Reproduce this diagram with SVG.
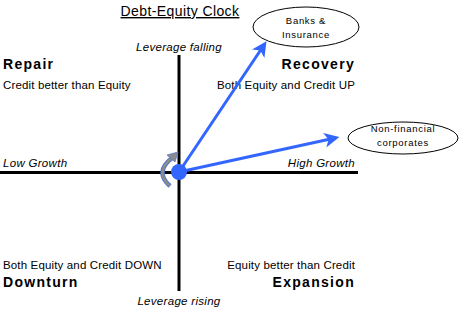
<svg xmlns="http://www.w3.org/2000/svg" width="468" height="309" viewBox="0 0 468 309">
<style>
text{font-family:"Liberation Sans",Arial,sans-serif;fill:#000}
.t{font-size:11.5px;letter-spacing:0.15px}
.b{font-size:14px;font-weight:bold;letter-spacing:1.3px}
.i{font-size:11.5px;font-style:italic;letter-spacing:0.3px}
.s{font-size:9.5px;letter-spacing:0.7px}
.ax{stroke:#000;stroke-width:3}
.arr{stroke:#3366FF;stroke-width:3;fill:none}
.ell{fill:#fff;stroke:#000;stroke-width:1}
</style>
<defs>
<marker id="ah" markerWidth="5" markerHeight="5" refX="3.5" refY="2.5" orient="auto" markerUnits="strokeWidth">
<path d="M0,0 L5,2.5 L0,5 L1.3,2.5 Z" fill="#3366FF"/>
</marker>
</defs>
<rect width="468" height="309" fill="#fff"/>
<text x="180" y="16" text-anchor="middle" style="font-size:14px;letter-spacing:0.4px" text-decoration="underline">Debt-Equity Clock</text>
<g id="axes">
<line class="ax" x1="179" y1="55" x2="179" y2="291"/>
<line class="ax" x1="0" y1="172.5" x2="358" y2="172.5"/>
</g>
<g id="labels">
<text class="i" x="179" y="51" text-anchor="middle">Leverage falling</text>
<text class="i" x="179" y="305" text-anchor="middle">Leverage rising</text>
<text class="i" x="3" y="167">Low Growth</text>
<text class="i" x="355" y="167" text-anchor="end">High Growth</text>
<text class="b" x="3" y="69">Repair</text>
<text class="t" x="3" y="89">Credit better than Equity</text>
<text class="b" x="355" y="69" text-anchor="end">Recovery</text>
<text class="t" x="355" y="89" text-anchor="end">Both Equity and Credit UP</text>
<text class="t" x="3" y="269">Both Equity and Credit DOWN</text>
<text class="b" x="3" y="287">Downturn</text>
<text class="t" x="355" y="269" text-anchor="end">Equity better than Credit</text>
<text class="b" x="355" y="287" text-anchor="end">Expansion</text>
</g>
<g id="connectors">
<line class="arr" x1="179" y1="172" x2="264" y2="45" marker-end="url(#ah)"/>
<line class="arr" x1="179" y1="172" x2="335" y2="138" marker-end="url(#ah)"/>
</g>
<g id="rotation">
<path d="M170,186 Q154,172 172,158" fill="none" stroke="#5577cc" stroke-width="4.5"/>
<path d="M170,186 Q154,172 172,158" fill="none" stroke="#8c8c8c" stroke-width="2.5"/>
<path d="M167,155 L178,152 L175,162 Z" fill="#8c8c8c" stroke="#5577cc" stroke-width="0.8"/>
</g>
<g id="center">
<circle cx="179" cy="172" r="8" fill="#3366FF"/>
</g>
<g id="banks">
<ellipse class="ell" cx="306" cy="27" rx="53" ry="20"/>
<text class="s" x="306" y="24" text-anchor="middle">Banks &amp;</text>
<text class="s" x="306" y="38" text-anchor="middle">Insurance</text>
</g>
<g id="nonfin">
<ellipse class="ell" cx="403" cy="138" rx="55" ry="16"/>
<text class="s" x="403" y="132" text-anchor="middle">Non-financial</text>
<text class="s" x="403" y="146" text-anchor="middle">corporates</text>
</g>
</svg>
